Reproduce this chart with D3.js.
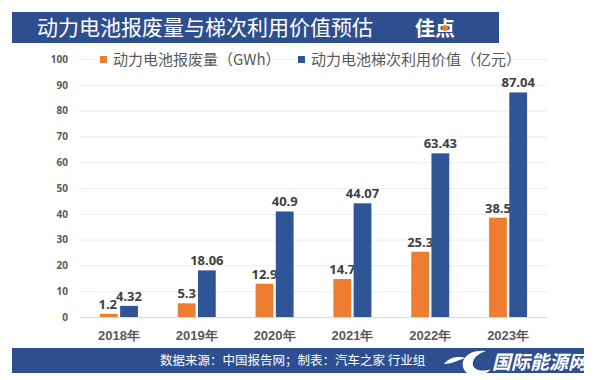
<!DOCTYPE html>
<html>
<head>
<meta charset="utf-8">
<script src="https://cdn.jsdelivr.net/npm/d3@7"></script>
<style>
  body { margin: 0; background: #fff; }
  svg { display: block; font-family: "Noto Sans CJK SC", "Noto Sans", sans-serif; }
</style>
</head>
<body>
<script>
const width = 600;
const height = 380;

// data
const years = ["2018年", "2019年", "2020年", "2021年", "2022年", "2023年"];
const seriesNames = ["动力电池报废量（GWh）", "动力电池梯次利用价值（亿元）"];
const scrapGWh = [1.2, 5.3, 12.9, 14.7, 25.3, 38.5];
const reuseValue = [4.32, 18.06, 40.9, 44.07, 63.43, 87.04];
const yTicks = [0, 10, 20, 30, 40, 50, 60, 70, 80, 90, 100];
const labelText = [
    ["1.2", "5.3", "12.9", "14.7", "25.3", "38.5"],
    ["4.32", "18.06", "40.9", "44.07", "63.43", "87.04"]
];

const colors = ["#ED7D31", "#2F5597"];

const margin = { left: 80, right: 53, top: 59, bottom: 63 };

let svg = d3.select("body").append("svg")
    .attr("width", width)
    .attr("height", height);

// title bar
svg.append("rect")
    .attr("x", 12).attr("y", 12)
    .attr("width", 487).attr("height", 31)
    .attr("fill", "#2E4F8F");

svg.append("text")
    .attr("x", 205).attr("y", 35)
    .attr("text-anchor", "middle")
    .attr("fill", "#fff")
    .style("font-size", "21px")
    .text("动力电池报废量与梯次利用价值预估");

// little logo
let logo = svg.append("g").attr("transform", "translate(415,36)");
logo.append("text")
    .attr("fill", "#fff")
    .style("font-size", "20px")
    .style("font-weight", "bold")
    .text("佳点");
logo.append("circle")
    .attr("cx", 30).attr("cy", -8).attr("r", 3)
    .attr("fill", "#ED7D31");

let xScale = d3.scaleBand()
    .domain(years)
    .range([margin.left, width - margin.right]);

let x1 = d3.scaleBand()
    .domain([0, 1])
    .range([0, 38])
    .paddingInner(0.12);

let yScale = d3.scaleLinear()
    .domain([0, 100])
    .range([height - margin.bottom, margin.top]);

// gridlines
svg.append("g")
    .selectAll("line")
    .data(yTicks)
    .join("line")
    .attr("x1", margin.left)
    .attr("x2", width - margin.right)
    .attr("y1", d => yScale(d) + 0.5)
    .attr("y2", d => yScale(d) + 0.5)
    .attr("stroke", d => d === 0 ? "#d9d9d9" : "#ececec");

// y axis labels
let yAxis = svg.append("g")
    .attr("transform", "translate(" + margin.left + ",0)")
    .call(d3.axisLeft(yScale).tickValues(yTicks).tickSize(0).tickPadding(12));
yAxis.select(".domain").remove();
yAxis.selectAll("text")
    .attr("fill", "#595959")
    .style("font-size", "10px")
    .style("font-weight", "bold")
    .style("font-family", "Noto Sans, sans-serif");

// x axis labels
let xAxis = svg.append("g")
    .attr("transform", "translate(0," + (height - margin.bottom) + ")")
    .call(d3.axisBottom(xScale).tickSize(0).tickPadding(14));
xAxis.select(".domain").remove();
xAxis.selectAll("text")
    .attr("fill", "#595959")
    .style("font-size", "13px")
    .style("font-weight", "bold");

// bars
const seriesData = [scrapGWh, reuseValue];
seriesData.forEach((vals, s) => {
    let g = svg.append("g");
    g.selectAll("rect")
        .data(vals)
        .join("rect")
        .attr("x", (d, i) => xScale(years[i]) + xScale.bandwidth() / 2 - 19 + x1(s))
        .attr("y", d => yScale(d))
        .attr("width", x1.bandwidth())
        .attr("height", d => yScale(0) - yScale(d))
        .attr("fill", colors[s]);

    g.selectAll("text")
        .data(vals)
        .join("text")
        .attr("x", (d, i) => xScale(years[i]) + xScale.bandwidth() / 2 - 19 + x1(s) + x1.bandwidth() / 2 + (s === 0 && i === 0 ? -1 : 0))
        .attr("y", d => yScale(d) - 5)
        .attr("text-anchor", "middle")
        .attr("fill", "#404040")
        .style("font-size", "13px")
        .style("font-weight", "bold")
        .style("font-family", "Noto Sans, sans-serif")
        .text((d, i) => labelText[s][i]);
});

// legend
const legendX = [100, 298];
seriesNames.forEach((name, s) => {
    let lg = svg.append("g").attr("transform", `translate(${legendX[s]},${yScale(100)})`);
    lg.append("rect")
        .attr("x", -3).attr("y", -9)
        .attr("width", s === 0 ? 172 : 216).attr("height", 18)
        .attr("fill", "#fff");
    lg.append("rect")
        .attr("x", 0).attr("y", -3)
        .attr("width", 7).attr("height", 7)
        .attr("fill", colors[s]);
    lg.append("text")
        .attr("x", 13).attr("y", 6)
        .attr("fill", "#595959")
        .style("font-size", "15px")
        .text(name);
});

// source bar
svg.append("rect")
    .attr("x", 12).attr("y", 348)
    .attr("width", 572).attr("height", 25)
    .attr("fill", "#2E4F8F");

svg.append("text")
    .attr("x", 160).attr("y", 365)
    .attr("fill", "#fff")
    .style("font-size", "12.5px")
    .text("数据来源：中国报告网；制表：汽车之家 行业组");

// watermark
let wm = svg.append("g");
wm.append("path")
    .attr("d", "M486,351 C468,349 458,361 465,371 C470,378 484,377 491,369 C481,373 471,369 473,362 C475,355 481,353 486,351 Z")
    .attr("fill", "#fff");
wm.append("path")
    .attr("d", "M444,364 C450,356 460,356 466,358 C458,360 452,364 444,364 Z")
    .attr("fill", "#fff");
wm.append("text")
    .attr("x", 492).attr("y", 369)
    .attr("fill", "#fff")
    .style("font-size", "19px")
    .style("font-weight", "bold")
    .style("font-style", "italic")
    .text("国际能源网");
</script>
</body>
</html>
